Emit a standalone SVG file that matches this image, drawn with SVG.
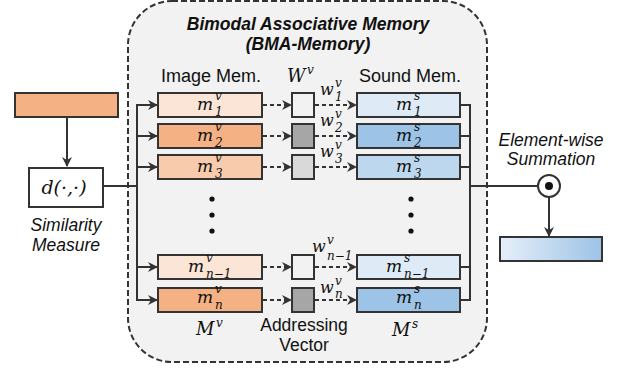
<svg xmlns="http://www.w3.org/2000/svg" width="618" height="369" viewBox="0 0 618 369">
<defs>
<marker id="ah" viewBox="0 0 10 10" refX="9" refY="5" markerWidth="10" markerHeight="10" orient="auto" markerUnits="userSpaceOnUse">
<path d="M0,0 L10,5 L0,10 L3,5 Z" fill="#333"/>
</marker>
<linearGradient id="outg" x1="0" y1="0" x2="1" y2="0">
<stop offset="0" stop-color="#e6eff9"/>
<stop offset="1" stop-color="#9dc3e6"/>
</linearGradient>
</defs>
<style>
.box{stroke:#333;stroke-width:2}
.ln{stroke:#333;stroke-width:2;fill:none}
.dl{stroke:#333;stroke-width:2;fill:none;stroke-dasharray:4,3}
.t{font-family:"Liberation Sans",Arial,sans-serif;font-size:18px;fill:#111}
.it{font-family:"Liberation Sans",Arial,sans-serif;font-size:17.5px;font-style:italic;fill:#111}
.ti{font-family:"Liberation Sans",Arial,sans-serif;font-size:17.5px;font-style:italic;font-weight:bold;fill:#111}
.m{font-family:"DejaVu Serif","Liberation Serif",serif;font-style:italic;font-size:17px;fill:#111}
.w{font-family:"DejaVu Serif","Liberation Serif",serif;font-style:italic;font-size:16px;fill:#111}
.s{font-family:"DejaVu Serif","Liberation Serif",serif;font-style:italic;font-size:12px;fill:#111}
</style>
<rect x="0" y="0" width="618" height="369" fill="#fff"/>
<g id="container">
<rect x="128" y="1" width="359" height="361" rx="44" ry="44" fill="#f2f2f2" stroke="#333" stroke-width="2" stroke-dasharray="6,3"/>
<text class="ti" x="308" y="30" text-anchor="middle">Bimodal Associative Memory</text>
<text class="ti" x="308" y="49.5" text-anchor="middle">(BMA-Memory)</text>
</g>
<g id="headers">
<text class="t" x="211" y="82" text-anchor="middle">Image Mem.</text>
<text class="m" x="287" y="82" style="font-size:18px">W</text>
<text class="s" x="307" y="74">v</text>
<text class="t" x="410" y="82" text-anchor="middle">Sound Mem.</text>
</g>
<g id="input">
<rect class="box" x="15" y="93" width="103" height="24" fill="#f4b183"/>
</g>
<g id="similarity">
<rect class="box" x="29" y="168" width="74" height="39" fill="#fff"/>
<text class="m" x="64" y="194" text-anchor="middle" style="font-size:19px">d(·,·)</text>
<text class="it" x="66" y="231" text-anchor="middle">Similarity</text>
<text class="it" x="66" y="250.5" text-anchor="middle">Measure</text>
</g>
<g id="connectors">
<line class="ln" x1="67" y1="117" x2="67" y2="166" marker-end="url(#ah)"/>
<polyline class="ln" points="103,186 137,186"/>
<line class="ln" x1="137" y1="105" x2="137" y2="300"/>
<line class="ln" x1="136" y1="105" x2="157" y2="105" marker-end="url(#ah)"/>
<line class="ln" x1="137" y1="136" x2="157" y2="136" marker-end="url(#ah)"/>
<line class="ln" x1="137" y1="167" x2="157" y2="167" marker-end="url(#ah)"/>
<line class="ln" x1="137" y1="267" x2="157" y2="267" marker-end="url(#ah)"/>
<line class="ln" x1="136" y1="300" x2="157" y2="300" marker-end="url(#ah)"/>
<line class="dl" x1="263" y1="105" x2="291" y2="105" marker-end="url(#ah)"/>
<line class="dl" x1="263" y1="136" x2="291" y2="136" marker-end="url(#ah)"/>
<line class="dl" x1="263" y1="167" x2="291" y2="167" marker-end="url(#ah)"/>
<line class="dl" x1="263" y1="267" x2="291" y2="267" marker-end="url(#ah)"/>
<line class="dl" x1="263" y1="300" x2="291" y2="300" marker-end="url(#ah)"/>
<line class="dl" x1="315" y1="105" x2="356" y2="105" marker-end="url(#ah)"/>
<line class="dl" x1="315" y1="136" x2="356" y2="136" marker-end="url(#ah)"/>
<line class="dl" x1="315" y1="167" x2="356" y2="167" marker-end="url(#ah)"/>
<line class="dl" x1="315" y1="267" x2="356" y2="267" marker-end="url(#ah)"/>
<line class="dl" x1="315" y1="300" x2="356" y2="300" marker-end="url(#ah)"/>
<line class="ln" x1="461" y1="105" x2="470" y2="105"/>
<line class="ln" x1="461" y1="136" x2="470" y2="136"/>
<line class="ln" x1="461" y1="167" x2="470" y2="167"/>
<line class="ln" x1="461" y1="267" x2="470" y2="267"/>
<line class="ln" x1="461" y1="300" x2="470" y2="300"/>
<line class="ln" x1="470" y1="104" x2="470" y2="301"/>
<line class="ln" x1="470" y1="186" x2="538" y2="186"/>
<line class="ln" x1="549" y1="197" x2="549" y2="236" marker-end="url(#ah)"/>
</g>
<g id="image-mem">
<rect class="box" x="158" y="93" width="104" height="24" fill="#fbe5d6"/>
<rect class="box" x="158" y="124" width="104" height="24" fill="#f4b183"/>
<rect class="box" x="158" y="155" width="104" height="24" fill="#f8cbad"/>
<rect class="box" x="158" y="255" width="104" height="24" fill="#fbe5d6"/>
<rect class="box" x="158" y="288" width="104" height="24" fill="#f4b183"/>
<text class="m" x="197" y="110">m</text><text class="s" x="215" y="100">v</text><text class="s" x="215" y="116">1</text>
<text class="m" x="197" y="141">m</text><text class="s" x="215" y="131">v</text><text class="s" x="215" y="147">2</text>
<text class="m" x="197" y="172">m</text><text class="s" x="215" y="162">v</text><text class="s" x="215" y="178">3</text>
<text class="m" x="188" y="272">m</text><text class="s" x="206" y="262">v</text><text class="s" x="206" y="278">n−1</text>
<text class="m" x="197" y="303">m</text><text class="s" x="215" y="293">v</text><text class="s" x="215" y="309">n</text>
<circle cx="212" cy="199" r="2.6" fill="#111"/>
<circle cx="212" cy="215" r="2.6" fill="#111"/>
<circle cx="212" cy="231" r="2.6" fill="#111"/>
<text class="m" x="196" y="335" style="font-size:18px">M</text><text class="s" x="216" y="327">v</text>
</g>
<g id="addressing-vector">
<rect class="box" x="292" y="93" width="22" height="24" fill="#f2f2f2"/>
<rect class="box" x="292" y="124" width="22" height="24" fill="#a6a6a6"/>
<rect class="box" x="292" y="155" width="22" height="24" fill="#d9d9d9"/>
<rect class="box" x="292" y="255" width="22" height="24" fill="#f2f2f2"/>
<rect class="box" x="292" y="288" width="22" height="24" fill="#a6a6a6"/>
<text class="t" x="304" y="331" text-anchor="middle" style="font-size:17.5px">Addressing</text>
<text class="t" x="304" y="350.5" text-anchor="middle" style="font-size:17.5px">Vector</text>
<text class="w" x="320" y="95">w</text><text class="s" x="335" y="87">v</text><text class="s" x="335" y="101">1</text>
<text class="w" x="320" y="126">w</text><text class="s" x="335" y="118">v</text><text class="s" x="335" y="132">2</text>
<text class="w" x="320" y="157">w</text><text class="s" x="335" y="149">v</text><text class="s" x="335" y="163">3</text>
<text class="w" x="312" y="252">w</text><text class="s" x="327" y="244">v</text><text class="s" x="327" y="260">n−1</text>
<text class="w" x="320" y="293">w</text><text class="s" x="335" y="285">v</text><text class="s" x="335" y="298">n</text>
</g>
<g id="sound-mem">
<rect class="box" x="357" y="93" width="103" height="24" fill="#deebf7"/>
<rect class="box" x="357" y="124" width="103" height="24" fill="#9dc3e6"/>
<rect class="box" x="357" y="155" width="103" height="24" fill="#bdd7ee"/>
<rect class="box" x="357" y="255" width="103" height="24" fill="#deebf7"/>
<rect class="box" x="357" y="288" width="103" height="24" fill="#9dc3e6"/>
<text class="m" x="396" y="110">m</text><text class="s" x="414" y="100">s</text><text class="s" x="414" y="116">1</text>
<text class="m" x="396" y="141">m</text><text class="s" x="414" y="131">s</text><text class="s" x="414" y="147">2</text>
<text class="m" x="396" y="172">m</text><text class="s" x="414" y="162">s</text><text class="s" x="414" y="178">3</text>
<text class="m" x="386" y="272">m</text><text class="s" x="404" y="262">s</text><text class="s" x="404" y="278">n−1</text>
<text class="m" x="396" y="303">m</text><text class="s" x="414" y="293">s</text><text class="s" x="414" y="309">n</text>
<circle cx="411" cy="199" r="2.6" fill="#111"/>
<circle cx="411" cy="215" r="2.6" fill="#111"/>
<circle cx="411" cy="231" r="2.6" fill="#111"/>
<text class="m" x="392" y="336" style="font-size:18px">M</text><text class="s" x="412" y="328">s</text>
</g>
<g id="summation">
<circle cx="549" cy="186" r="11" fill="#fff" stroke="#333" stroke-width="2"/>
<circle cx="549" cy="186" r="4" fill="#111"/>
<text class="it" x="551" y="145.5" text-anchor="middle">Element-wise</text>
<text class="it" x="551" y="165" text-anchor="middle">Summation</text>
</g>
<g id="output">
<rect class="box" x="500" y="237" width="102" height="24" fill="url(#outg)"/>
</g>
</svg>
